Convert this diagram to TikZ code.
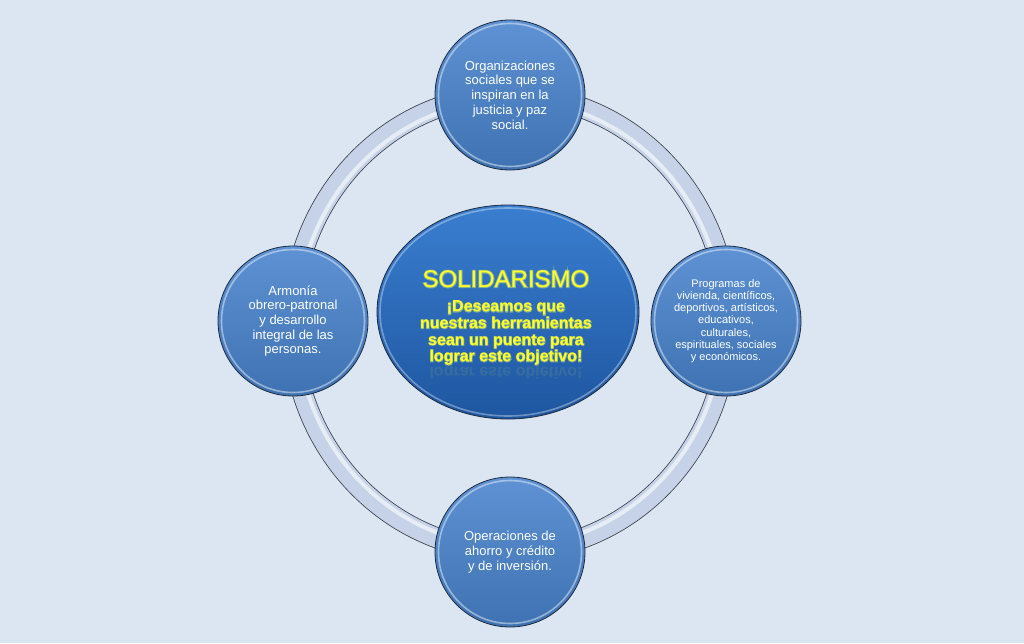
\documentclass[tikz,border=0pt]{standalone}
\usepackage{fontspec}
\setmainfont{Liberation Sans}
\newfontfamily\glowfont[FakeBold=8, BoldFeatures={FakeBold=8}]{Liberation Sans}
\usetikzlibrary{shapes.geometric}
\definecolor{bg}{HTML}{DCE6F2}
\definecolor{ringfill}{HTML}{C5D2E8}
\definecolor{ringedge}{HTML}{3A3F48}
\definecolor{circtop}{HTML}{5E92D4}
\definecolor{circbot}{HTML}{3F72B2}
\definecolor{coretop}{HTML}{3A7ED0}
\definecolor{corebot}{HTML}{1E56A0}
\definecolor{edge}{HTML}{1C2B40}
\definecolor{ytext}{HTML}{FFFF2A}
\definecolor{yglow}{HTML}{C9E66A}
\begin{document}
\begin{tikzpicture}[x=1pt,y=-1pt,
  circ/.style={circle, minimum size=150pt, inner sep=0pt, draw=edge, line width=0.8pt,
    top color=circtop, bottom color=circbot, text=white, align=center,
    font=\fontsize{13}{14.7}\selectfont,
    path picture={\draw[white,opacity=.45,line width=1.6pt]
      (path picture bounding box.center) circle (71.5pt);}},
  core/.style={ellipse, minimum width=262pt, minimum height=214pt, inner sep=0pt,
    draw=edge, line width=0.8pt, top color=coretop, bottom color=corebot,
    path picture={\draw[white,opacity=.35,line width=1.6pt]
      (path picture bounding box.center) ellipse [x radius=128pt, y radius=104pt];}},
  title/.style={text=ytext, font=\fontsize{24}{26}\selectfont, inner sep=0pt},
  sub/.style={text=ytext, font=\fontsize{16}{16.6}\selectfont\bfseries, align=center, inner sep=0pt},
  glow/.style={text=yglow, opacity=.5},
]
\fill[bg] (0,0) rectangle (1024,643);
\useasboundingbox (0,0) rectangle (1024,643);

% ring
\coordinate (rc) at (510,323);
\draw[ringedge, line width=21pt] (rc) ellipse [x radius=218pt, y radius=228pt];
\draw[ringfill, line width=19.4pt] (rc) ellipse [x radius=218pt, y radius=228pt];
\draw[white, opacity=.6, line width=4pt] (rc) ellipse [x radius=213pt, y radius=223pt];

% outer nodes
\node[circ] (top) at (510,95) {Organizaciones\\sociales que se\\inspiran en la\\justicia y paz\\social.};
\node[circ] (left) at (293,321) {Armonía\\obrero-patronal\\y desarrollo\\integral de las\\personas.};
\node[circ, font=\fontsize{11}{12.2}\selectfont] (right) at (726,321) {Programas de\\vivienda, científicos,\\deportivos, artísticos,\\educativos,\\culturales,\\espirituales, sociales\\y económicos.};
\node[circ] (bottom) at (510,552) {Operaciones de\\ahorro y crédito\\y de inversión.};

% center
\node[core] (center) at (508,312) {};

% faint reflection
\node[sub, yscale=-1, transform shape, opacity=.09] (subref) at (506,372) {lograr este objetivo!};

% glow layer
\node[title, glow, font=\fontsize{24}{26}\glowfont] (titleglow) at (506,279) {SOLIDARISMO};
\node[sub, glow, font=\fontsize{16}{16.6}\glowfont\bfseries] (subglow) at (506,333) {¡Deseamos que\\nuestras herramientas\\sean un puente para\\lograr este objetivo!};
% text
\node[title] (title) at (506,279) {SOLIDARISMO};
\node[sub] (subtitle) at (506,333) {¡Deseamos que\\nuestras herramientas\\sean un puente para\\lograr este objetivo!};
\end{tikzpicture}
\end{document}
